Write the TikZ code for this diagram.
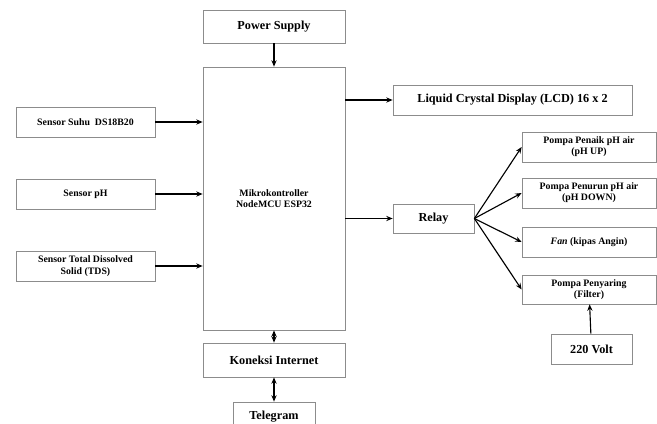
\documentclass[tikz,border=0pt]{standalone}
\usepackage{fontspec}
\setmainfont{Liberation Serif}
\usepackage{tikz}
\usetikzlibrary{arrows.meta,positioning}

\begin{document}
\begin{tikzpicture}[
  x=0.025cm, y=-0.025cm,
  font=\bfseries\fontsize{7}{8}\selectfont,
  blok/.style={draw=black!45, line width=0.5pt, align=center, inner sep=1pt},
  big/.style={font=\bfseries\fontsize{8.7}{9.8}\selectfont},
  link/.style={line width=0.8pt, -{Stealth[length=1.6mm,width=1.3mm]}},
  both/.style={line width=0.8pt, {Stealth[length=1.6mm,width=1.3mm]}-{Stealth[length=1.6mm,width=1.3mm]}}
]
\useasboundingbox (0,0) rectangle (657,423);

% pusat
\node[blok, big, minimum width=142*0.025cm, minimum height=33*0.025cm] (psu) at (274,26.5) {Power Supply};
\node[blok, minimum width=142*0.025cm, minimum height=263*0.025cm] (mcu) at (274,198.5) {Mikrokontroller\\NodeMCU ESP32};
\node[blok, big, minimum width=142*0.025cm, minimum height=34*0.025cm] (inet) at (274,360) {Koneksi Internet};
\node[blok, big, minimum width=82*0.025cm, minimum height=30*0.025cm] (tele) at (274,417) {Telegram};

% sensor
\node[blok, minimum width=139*0.025cm, minimum height=30*0.025cm] (suhu) at (85.5,122) {Sensor Suhu\ \ DS18B20};
\node[blok, minimum width=139*0.025cm, minimum height=30*0.025cm] (ph) at (85.5,194) {Sensor pH};
\node[blok, minimum width=139*0.025cm, minimum height=30*0.025cm] (tds) at (85.5,266) {Sensor Total Dissolved\\Solid (TDS)};

% keluaran
\node[blok, big, minimum width=239*0.025cm, minimum height=30*0.025cm] (lcd) at (512.5,100) {Liquid Crystal Display (LCD) 16 x 2};
\node[blok, big, minimum width=81*0.025cm, minimum height=29*0.025cm] (relay) at (433.5,218.5) {Relay};
\node[blok, minimum width=134*0.025cm, minimum height=30*0.025cm] (naik) at (589,147) {Pompa Penaik pH air\\(pH UP)};
\node[blok, minimum width=134*0.025cm, minimum height=30*0.025cm] (turun) at (589,193) {Pompa Penurun pH air\\(pH DOWN)};
\node[blok, minimum width=134*0.025cm, minimum height=30*0.025cm] (fan) at (589,242) {\textit{Fan} (kipas Angin)};
\node[blok, minimum width=134*0.025cm, minimum height=29*0.025cm] (saring) at (589,289.5) {Pompa Penyaring\\(Filter)};
\node[blok, big, minimum width=81*0.025cm, minimum height=30*0.025cm] (volt) at (591.5,349) {220 Volt};

\draw[link] (psu) -- (mcu);
\draw[link] (suhu) -- (suhu -| mcu.west);
\draw[link] (ph) -- (ph -| mcu.west);
\draw[link] (tds) -- (tds -| mcu.west);
\draw[link] (mcu.east |- lcd) -- (lcd);
\draw[link] (mcu.east |- relay) -- (relay);
\draw[link] (relay.east) -- (naik.west);
\draw[link] (relay.east) -- (turun.west);
\draw[link] (relay.east) -- (fan.west);
\draw[link] (relay.east) -- (saring.west);
\draw[link] (volt) -- (saring);
\draw[both] (mcu) -- (inet);
\draw[both] (inet) -- (tele);
\end{tikzpicture}
\end{document}
